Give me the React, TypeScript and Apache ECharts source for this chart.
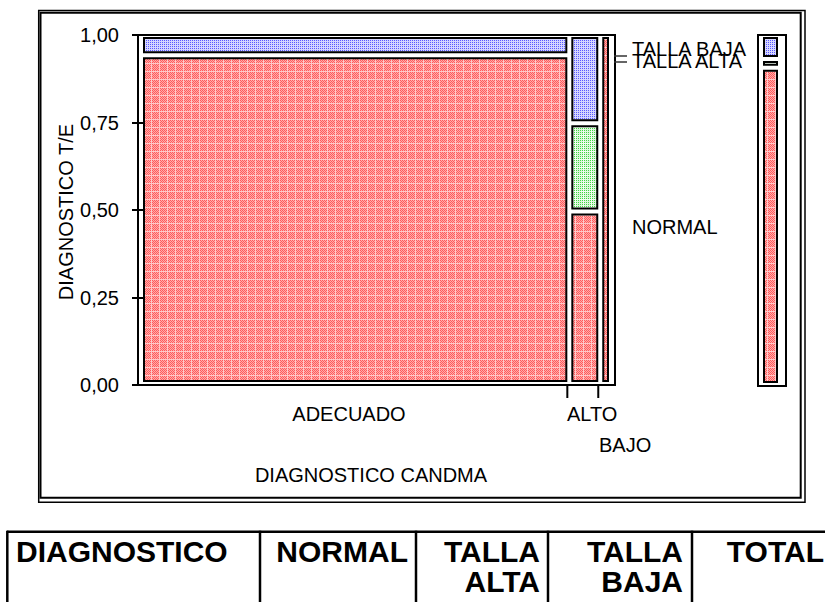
import React, { useEffect, useRef } from 'react';
import * as echarts from 'echarts';

// ---- data ----
const categories = ['ADECUADO', 'ALTO', 'BAJO'];
const diagnoses = ['NORMAL', 'TALLA ALTA', 'TALLA BAJA'];
const normalCounts = [60, 2, 1];
const tallaAltaCounts = [0, 1, 0];
const tallaBajaCounts = [3, 1, 0];
const yTicks = [0, 0.25, 0.5, 0.75, 1];
const tableHeaders = ['DIAGNOSTICO', 'NORMAL', 'TALLA\nALTA', 'TALLA\nBAJA', 'TOTAL'];

// ---- styles / layout ----
const FONT = '"Liberation Sans", Arial, sans-serif';
const FALLBACK_FILLS = ['#ff8484', '#b4f0b4', '#b2b2fa'];
const PLOT_LEFT = 138, PLOT_TOP = 35, PLOT_RIGHT = 615, PLOT_BOTTOM = 385;
const CELL_LEFT = 143, CELL_RIGHT = 609;
const GAP_X = 4, GAP_Y = 4, INSET_B = 3, INSET_T = 2;
const MARG_LEFT = 758, MARG_RIGHT = 786, MARG_CELL_L = 763, MARG_CELL_R = 778;

const countsByDiag = [normalCounts, tallaAltaCounts, tallaBajaCounts];
const colTotals = categories.map((_, c) => countsByDiag.reduce((s, arr) => s + arr[c], 0));
const grand = colTotals.reduce((a, b) => a + b, 0);
const rowTotals = countsByDiag.map(arr => arr.reduce((a, b) => a + b, 0));

// mosaic cells: [x0, x1, f0, f1, col, diag, k, n]
const mosaicData: number[][] = [];
const tickData: number[][] = [];
{
  let cum = 0;
  categories.forEach((_, c) => {
    const tot = colTotals[c];
    const nz = countsByDiag.map((arr, d) => ({ d, v: arr[c] })).filter(o => o.v > 0);
    let f = 0;
    nz.forEach((o, k) => {
      const fr = o.v / tot;
      mosaicData.push([cum, cum + tot, f, f + fr, c, o.d, k, nz.length]);
      f += fr;
    });
    cum += tot;
    if (c < categories.length - 1) tickData.push([cum, c]);
  });
}
// marginal cells: [f0, f1, diag, k, n]
const marginData: number[][] = [];
{
  const nz = rowTotals.map((v, d) => ({ d, v })).filter(o => o.v > 0);
  let f = 0;
  nz.forEach((o, k) => {
    const fr = o.v / grand;
    marginData.push([f, f + fr, o.d, k, nz.length]);
    f += fr;
  });
}

const unitPx = (CELL_RIGHT - CELL_LEFT - GAP_X * (categories.length - 1)) / grand;
const xMin = -(CELL_LEFT - PLOT_LEFT) / unitPx;
const xMax = grand + (PLOT_RIGHT - (CELL_LEFT + grand * unitPx)) / unitPx;
const mUnit = MARG_CELL_R - MARG_CELL_L;
const mMin = -(MARG_CELL_L - MARG_LEFT) / mUnit;
const mMax = 1 + (MARG_RIGHT - MARG_CELL_R) / mUnit;

function makePattern(kind: number): any {
  try {
    const c = document.createElement('canvas');
    c.width = 8; c.height = 8;
    const ctx = c.getContext('2d');
    if (!ctx) return FALLBACK_FILLS[kind];
    for (let i = 0; i < 8; i++) {
      for (let j = 0; j < 8; j++) {
        let col: string;
        if (kind === 0) {
          if (i === 7 || j === 7) col = '#ffc8c8';
          else col = (i + j) % 2 === 0 ? '#ff5c5c' : '#ffaaaa';
        } else if (kind === 1) {
          if (i === 7 || j === 7) col = '#f2fff2';
          else col = i % 2 === 0 && j % 2 === 0 ? '#44d444' : '#dcf8dc';
        } else {
          col = i % 2 === 0 && j % 2 === 0 ? '#5a5aff' : '#d6d6ff';
        }
        ctx.fillStyle = col;
        ctx.fillRect(i, j, 1, 1);
      }
    }
    return { image: c.toDataURL(), repeat: 'repeat' };
  } catch (e) {
    return FALLBACK_FILLS[kind];
  }
}

function txt(text: string, x: number, y: number, opts: any = {}) {
  return {
    type: 'text', x, y, rotation: opts.rotation || 0,
    style: {
      text, fill: '#000', font: `${opts.weight || 'normal'} ${opts.size || 20}px ${FONT}`,
      align: opts.align || 'left', verticalAlign: opts.va || 'middle',
      lineHeight: opts.lineHeight,
    },
  };
}
function ln(x1: number, y1: number, x2: number, y2: number, w = 2, color = '#000') {
  return { type: 'line', shape: { x1, y1, x2, y2 }, style: { stroke: color, lineWidth: w } };
}

export default function App() {
  const ref = useRef<HTMLDivElement>(null);
  useEffect(() => {
    if (!ref.current) return;
    const chart = echarts.init(ref.current, null, { renderer: 'svg' });
    const fills = [0, 1, 2].map(makePattern);

    const tableTop = 531.7;
    const tableCols = [7.3, 260, 416, 548, 692];
    const tableTextX = [16, 408, 540, 683, 824];
    const graphics: any[] = [
      { type: 'rect', shape: { x: 38.7, y: 10.5, width: 766.3, height: 491.7 }, style: { fill: 'none', stroke: '#000', lineWidth: 1.5 } },
      { type: 'rect', shape: { x: 40.5, y: 12.7, width: 760.2, height: 485 }, style: { fill: 'none', stroke: '#000', lineWidth: 2 } },
      // leader marks
      ln(614, 56, 627, 56, 1.5, '#333'),
      ln(614, 62, 627, 62, 1.5, '#333'),
      txt(diagnoses[2], 632, 49),
      txt(diagnoses[1], 632, 61),
      txt(diagnoses[0], 632, 227),
      // category labels
      txt(categories[0], 349, 413.5, { align: 'center' }),
      txt(categories[1], 567, 413.5),
      txt(categories[2], 599, 444.5),
      // axis titles
      txt('DIAGNOSTICO CANDMA', 371, 474.5, { align: 'center' }),
      txt('DIAGNOSTICO T/E', 66, 212, { align: 'center', rotation: Math.PI / 2 }),
      // table
      ln(7, tableTop, 825, tableTop, 2.5),
      ...tableCols.map(x => ln(x, tableTop - 1, x, 602, 2.5)),
      ...tableHeaders.map((h, i) =>
        txt(h, tableTextX[i], 536.7, { align: i === 0 ? 'left' : 'right', va: 'top', weight: 'bold', size: 30, lineHeight: 30 })
      ),
    ];

    chart.setOption({
      animation: false,
      backgroundColor: '#fff',
      grid: [
        { left: PLOT_LEFT, top: PLOT_TOP, width: PLOT_RIGHT - PLOT_LEFT, height: PLOT_BOTTOM - PLOT_TOP, show: true, borderColor: '#000', borderWidth: 2, backgroundColor: 'transparent' },
        { left: MARG_LEFT, top: PLOT_TOP, width: MARG_RIGHT - MARG_LEFT, height: PLOT_BOTTOM - PLOT_TOP + 1, show: true, borderColor: '#000', borderWidth: 2, backgroundColor: 'transparent' },
      ],
      xAxis: [
        { type: 'value', gridIndex: 0, min: xMin, max: xMax, show: false },
        { type: 'value', gridIndex: 1, min: mMin, max: mMax, show: false },
      ],
      yAxis: [
        {
          type: 'value', gridIndex: 0, min: yTicks[0], max: yTicks[yTicks.length - 1], interval: yTicks[1] - yTicks[0],
          axisLine: { show: false },
          axisTick: { show: true, length: 11, lineStyle: { color: '#000', width: 2 } },
          splitLine: { show: false },
          axisLabel: { color: '#000', fontSize: 20, fontFamily: FONT, margin: 19, formatter: (v: number) => v.toFixed(2).replace('.', ',') },
        },
        { type: 'value', gridIndex: 1, min: 0, max: 1, show: false },
      ],
      series: [
        {
          type: 'custom', xAxisIndex: 0, yAxisIndex: 0, data: mosaicData,
          renderItem: (params: any, api: any) => {
            const x0 = api.value(0), x1 = api.value(1), f0 = api.value(2), f1 = api.value(3);
            const col = api.value(4), diag = api.value(5), k = api.value(6), n = api.value(7);
            const pA = api.coord([0, 0]);
            const pB = api.coord([grand, 1]);
            const wTot = pB[0] - pA[0];
            const left = pA[0] + (x0 / grand) * wTot + col * GAP_X;
            const width = ((x1 - x0) / grand) * wTot;
            const bottom = pA[1] - INSET_B;
            const top = pB[1] + INSET_T;
            const usable = bottom - top - GAP_Y * (n - 1);
            const yb = bottom - f0 * usable - k * GAP_Y;
            const h = (f1 - f0) * usable;
            return { type: 'rect', shape: { x: left + 1, y: yb - h + 1, width: width - 2, height: h - 2 }, style: { fill: fills[diag], stroke: '#000', lineWidth: 2 } };
          },
        },
        {
          type: 'custom', xAxisIndex: 0, yAxisIndex: 0, data: tickData,
          renderItem: (params: any, api: any) => {
            const cum = api.value(0), col = api.value(1);
            const pA = api.coord([0, 0]);
            const pB = api.coord([grand, 1]);
            const wTot = pB[0] - pA[0];
            const x = pA[0] + (cum / grand) * wTot + col * GAP_X;
            return { type: 'line', shape: { x1: x, y1: pA[1], x2: x, y2: pA[1] + 13 }, style: { stroke: '#000', lineWidth: 2 } };
          },
        },
        {
          type: 'custom', xAxisIndex: 1, yAxisIndex: 1, data: marginData,
          renderItem: (params: any, api: any) => {
            const f0 = api.value(0), f1 = api.value(1), diag = api.value(2), k = api.value(3), n = api.value(4);
            const pA = api.coord([0, 0]);
            const pB = api.coord([1, 1]);
            const bottom = pA[1] - INSET_B;
            const top = pB[1] + INSET_T;
            const usable = bottom - top - GAP_Y * (n - 1);
            const yb = bottom - f0 * usable - k * GAP_Y;
            const h = (f1 - f0) * usable;
            return { type: 'rect', shape: { x: pA[0] + 1, y: yb - h + 1, width: pB[0] - pA[0] - 2, height: Math.max(h - 2, 1) }, style: { fill: fills[diag], stroke: '#000', lineWidth: 2 } };
          },
        },
      ],
      graphic: graphics,
    });
    return () => chart.dispose();
  }, []);
  return <div ref={ref} style={{ position: 'absolute', left: 0, top: 0, width: 825, height: 602 }} />;
}
